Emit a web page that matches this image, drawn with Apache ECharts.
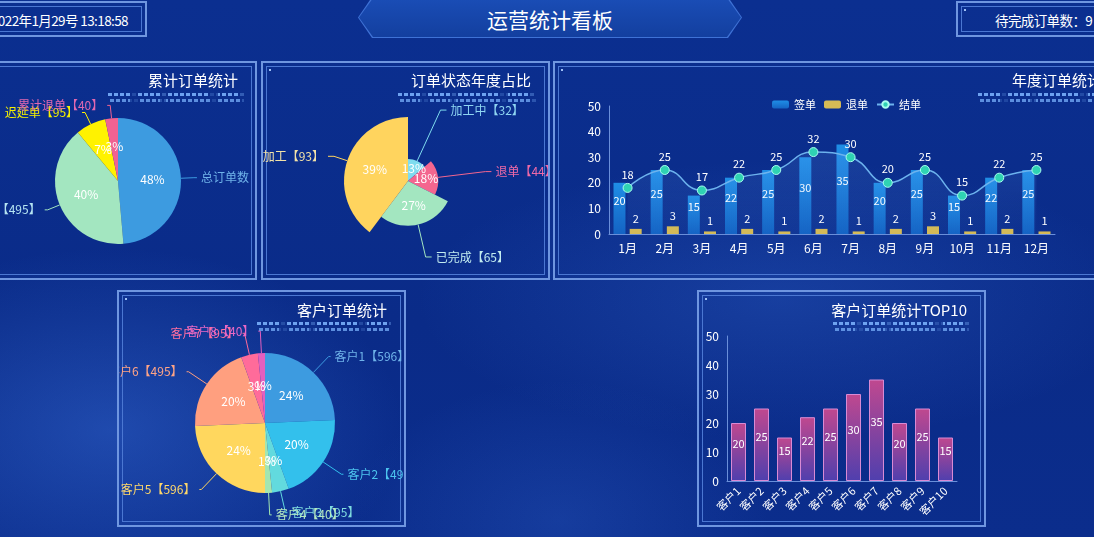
<!DOCTYPE html>
<html>
<head>
<meta charset="utf-8">
<script src="https://cdn.jsdelivr.net/npm/echarts@6/dist/echarts.min.js"></script>
<style>
  html, body { margin:0; padding:0; }
  body {
    width:1094px; height:537px; overflow:hidden; position:relative;
    font-family:"Noto Sans CJK SC","Noto Sans",sans-serif; color:#fff;
    background:
      radial-gradient(ellipse 420px 260px at 110px 430px, rgba(70,130,240,0.35), transparent 70%),
      radial-gradient(ellipse 520px 200px at 780px 300px, rgba(70,130,240,0.22), transparent 70%),
      radial-gradient(ellipse 300px 200px at 560px 520px, rgba(70,130,240,0.18), transparent 70%),
      linear-gradient(180deg, #0b2f90 0%, #0a2b88 60%, #0b2d8c 100%);
  }
  .box { position:absolute; border:2px solid #6f96e0; box-sizing:border-box; }
  .box::before { content:''; position:absolute; left:3px; top:3px; right:3px; bottom:3px; border:1px solid #4b77d2; }
  .box::after { content:''; position:absolute; left:6px; top:6px; width:2px; height:2px; background:#9fc0f5; }
  .chart { position:absolute; left:0; top:0; right:0; bottom:0; }
  .hdr { position:absolute; font-size:13.5px; letter-spacing:-0.6px; color:#fff; white-space:nowrap; }
  .banner { position:absolute; left:358px; top:-3px; width:384px; height:41px; background:#3f72d6;
    clip-path:polygon(14px 0,370px 0,384px 50%,370px 100%,14px 100%,0 50%); }
  .banner-in { position:absolute; left:1px; top:1px; right:1px; bottom:1px; background:linear-gradient(180deg,#1a4db6,#133f9f);
    clip-path:polygon(14px 0,368px 0,382px 50%,368px 100%,14px 100%,0 50%); }
  .banner-t { position:absolute; text-align:center; font-size:21px; color:#fff; }
  .dots { position:absolute; height:10px;
    background:
      repeating-linear-gradient(90deg, rgba(120,175,250,0.9) 0 4px, transparent 4px 6px) 0 0/100% 3px no-repeat,
      repeating-linear-gradient(90deg, rgba(120,175,250,0.75) 0 4px, transparent 4px 6px) 2px 6px/100% 3px no-repeat;
    -webkit-mask-image: repeating-linear-gradient(90deg, #000 0 22px, rgba(0,0,0,0.25) 22px 30px, #000 30px 52px, rgba(0,0,0,0.4) 52px 58px, #000 58px 80px);
    mask-image: repeating-linear-gradient(90deg, #000 0 22px, rgba(0,0,0,0.25) 22px 30px, #000 30px 52px, rgba(0,0,0,0.4) 52px 58px, #000 58px 80px);
  }
</style>
</head>
<body>
  <div class="box" style="left:-10px;top:1px;width:157px;height:36px;"></div>
  <div class="hdr" style="right:966px;top:10px;">2022年1月29号 13:18:58</div>
  <div class="banner"><div class="banner-in"></div></div>
  <div class="banner-t" style="left:358px;width:384px;top:4px;">运营统计看板</div>
  <div class="box" style="left:956px;top:1px;width:160px;height:36px;"></div>
  <div class="hdr" style="left:995px;top:10px;">待完成订单数：9</div>

  <div class="box" style="left:-10px;top:61px;width:267px;height:219px;"><div id="c1" class="chart"></div></div>
  <div class="box" style="left:261px;top:61px;width:289px;height:219px;"><div id="c2" class="chart"></div></div>
  <div class="box" style="left:553px;top:61px;width:568px;height:219px;"><div id="c3" class="chart"></div></div>
  <div class="box" style="left:117px;top:290px;width:289px;height:237px;"><div id="c4" class="chart"></div></div>
  <div class="box" style="left:697px;top:290px;width:289px;height:237px;"><div id="c5" class="chart"></div></div>

  <div class="dots" style="left:108px;top:93px;width:136px;"></div>
  <div class="dots" style="left:398px;top:93px;width:138px;"></div>
  <div class="dots" style="left:978px;top:93px;width:130px;"></div>
  <div class="dots" style="left:257px;top:322px;width:134px;"></div>
  <div class="dots" style="left:833px;top:322px;width:136px;"></div>

<script>
// 数据
var pie1Names = ['总订单数', '已完成', '迟延单', '累计退单'];
var pie1Values = [596, 495, 95, 40];
var pie1Colors = ['#3d9be0', '#a3e6c0', '#fff200', '#f06292'];
var pie1LabelColors = ['#6fb3ea', '#b5e4f2', '#f4f000', '#e068b0'];

var roseNames = ['加工中', '退单', '已完成', '待加工'];
var roseValues = [32, 44, 65, 93];
var roseColors = ['#7fdcef', '#f4668f', '#a3e6c0', '#ffd45e'];
var roseLabelColors = ['#8fd6f2', '#f06aa8', '#c2ecf0', '#f2e2a8'];

var months = ['1月','2月','3月','4月','5月','6月','7月','8月','9月','10月','11月','12月'];
var signValues = [20, 25, 15, 22, 25, 30, 35, 20, 25, 15, 22, 25];
var refundValues = [2, 3, 1, 2, 1, 2, 1, 2, 3, 1, 2, 1];
var closeValues = [18, 25, 17, 22, 25, 32, 30, 20, 25, 15, 22, 25];

var customerNames = ['客户1','客户2','客户3','客户4','客户5','客户6','客户7','客户8'];
var customerValues = [596, 495, 95, 40, 596, 495, 95, 40];
var customerColors = ['#3d9be0', '#33c0ec', '#62dade', '#a3e6b0', '#ffd75e', '#ff9f7f', '#ff6b9a', '#e35fbf'];
var customerLabelColors = ['#6fb3ea', '#4cc4ee', '#7fdce0', '#b5e8c0', '#ffd86a', '#ffa486', '#ff6fa0', '#e868c6'];

var topNames = ['客户1','客户2','客户3','客户4','客户5','客户6','客户7','客户8','客户9','客户10'];
var topValues = [20, 25, 15, 22, 25, 30, 35, 20, 25, 15];

var yMin = 0, yMax = 50, yStep = 10;

var font = '"Noto Sans CJK SC", "Noto Sans", sans-serif';
var axisColor = '#6a8fda';

function toData(names, values, labelColors) {
  return names.map(function (n, i) {
    var d = { name: n, value: values[i] };
    if (labelColors) d.label = { color: labelColors[i] };
    return d;
  });
}
function floorPct(p) { return Math.floor(p.percent) + '%'; }
function panelTitle(text, top) {
  return { text: text, right: 12, top: top, textStyle: { color: '#fff', fontSize: 15, fontWeight: 'normal', fontFamily: font } };
}
function outerLabel() {
  return { formatter: '{b}【{c}】', fontSize: 12, overflow: 'none', textBorderWidth: 0, distanceToLabelLine: 4 };
}
function innerSeries(base, data) {
  var s = {
    type: 'pie', center: base.center, radius: base.radius, startAngle: 90, silent: true,
    itemStyle: { color: 'transparent' },
    label: { position: 'inner', formatter: floorPct, color: '#fff', fontSize: 12, textBorderWidth: 0 },
    labelLine: { show: false },
    labelLayout: { hideOverlap: false },
    data: data
  };
  if (base.roseType) s.roseType = base.roseType;
  return s;
}

// 累计订单统计
!function () {
  var chart = echarts.init(document.getElementById('c1'));
  var base = {
    type: 'pie', center: [126, 118], radius: [0, 63], startAngle: 90,
    avoidLabelOverlap: false,
    label: outerLabel(),
    labelLine: { length: 13, length2: 3 },
    labelLayout: { hideOverlap: false },
    data: toData(pie1Names, pie1Values, pie1LabelColors)
  };
  chart.setOption({
    color: pie1Colors,
    textStyle: { fontFamily: font },
    title: panelTitle('累计订单统计', 5),
    series: [base, innerSeries(base, toData(pie1Names, pie1Values))]
  });
}();

// 订单状态年度占比
!function () {
  var chart = echarts.init(document.getElementById('c2'));
  var base = {
    type: 'pie', roseType: 'radius', center: [145, 118], radius: [0, 64], startAngle: 90,
    avoidLabelOverlap: false,
    label: outerLabel(),
    labelLine: { length: 14, length2: 6 },
    labelLayout: { hideOverlap: false },
    data: toData(roseNames, roseValues, roseLabelColors)
  };
  chart.setOption({
    color: roseColors,
    textStyle: { fontFamily: font },
    title: panelTitle('订单状态年度占比', 5),
    series: [base, innerSeries(base, toData(roseNames, roseValues))]
  });
}();

// 年度订单统计
!function () {
  var chart = echarts.init(document.getElementById('c3'));
  chart.setOption({
    textStyle: { fontFamily: font },
    title: panelTitle('年度订单统计', 5),
    legend: {
      top: 31, left: 212, itemWidth: 17, itemHeight: 8, itemGap: 8,
      textStyle: { color: '#fff', fontSize: 11 },
      data: ['签单', '退单', '结单']
    },
    grid: { left: 54, right: 64, top: 43, bottom: 44 },
    xAxis: {
      type: 'category', data: months,
      axisLine: { lineStyle: { color: axisColor } },
      axisTick: { show: false },
      axisLabel: { color: '#fff', fontSize: 12 }
    },
    yAxis: {
      type: 'value', min: yMin, max: yMax, interval: yStep,
      axisLine: { show: true, lineStyle: { color: axisColor } },
      axisTick: { show: false },
      splitLine: { show: false },
      axisLabel: { color: '#fff', fontSize: 12 }
    },
    series: [
      {
        name: '签单', type: 'bar', barWidth: 12, barGap: '35%',
        itemStyle: { color: new echarts.graphic.LinearGradient(0, 0, 0, 1, [
          { offset: 0, color: '#1f8ee6' }, { offset: 1, color: '#1463c4' }]) },
        label: { show: true, position: 'inside', offset: [0, -8], color: '#fff', fontSize: 11 },
        data: signValues
      },
      {
        name: '退单', type: 'bar', barWidth: 12,
        itemStyle: { color: '#d6bb55' },
        label: { show: true, position: 'top', color: '#fff', fontSize: 11 },
        data: refundValues
      },
      {
        name: '结单', type: 'line', smooth: true, symbol: 'circle', symbolSize: 9,
        lineStyle: { color: '#6db3ee', width: 1.5 },
        itemStyle: { color: '#2fd3b3', borderColor: '#a8fff0', borderWidth: 1 },
        areaStyle: { color: new echarts.graphic.LinearGradient(0, 0, 0, 1, [
          { offset: 0, color: 'rgba(110,170,250,0.22)' }, { offset: 1, color: 'rgba(110,170,250,0.02)' }]) },
        label: { show: true, position: 'top', color: '#fff', fontSize: 11, distance: 3 },
        data: closeValues
      }
    ]
  });
}();

// 客户订单统计
!function () {
  var chart = echarts.init(document.getElementById('c4'));
  var base = {
    type: 'pie', center: [146, 131], radius: [0, 70], startAngle: 90,
    avoidLabelOverlap: false,
    label: outerLabel(),
    labelLine: { length: 22, length2: 2 },
    labelLayout: { hideOverlap: false },
    data: toData(customerNames, customerValues, customerLabelColors)
  };
  chart.setOption({
    color: customerColors,
    textStyle: { fontFamily: font },
    title: panelTitle('客户订单统计', 6),
    series: [base, innerSeries(base, toData(customerNames, customerValues))]
  });
}();

// 客户订单统计TOP10
!function () {
  var chart = echarts.init(document.getElementById('c5'));
  chart.setOption({
    textStyle: { fontFamily: font },
    title: panelTitle('客户订单统计TOP10', 6),
    grid: { left: 28, right: 27, top: 44, bottom: 44 },
    xAxis: {
      type: 'category', data: topNames,
      axisLine: { lineStyle: { color: axisColor } },
      axisTick: { show: false },
      axisLabel: { color: '#fff', fontSize: 11, rotate: 45, interval: 0 }
    },
    yAxis: {
      type: 'value', min: yMin, max: yMax, interval: yStep,
      axisLine: { show: true, lineStyle: { color: axisColor } },
      axisTick: { show: false },
      splitLine: { show: false },
      axisLabel: { color: '#fff', fontSize: 12 }
    },
    series: [{
      type: 'bar', barWidth: 15,
      itemStyle: {
        color: new echarts.graphic.LinearGradient(0, 0, 0, 1, [
          { offset: 0, color: '#c0488f' }, { offset: 1, color: '#4f3fae' }]),
        borderColor: '#d98ad4', borderWidth: 1
      },
      label: { show: true, position: 'inside', offset: [0, -8], color: '#fff', fontSize: 11 },
      data: topValues
    }]
  });
}();
</script>
</body>
</html>
